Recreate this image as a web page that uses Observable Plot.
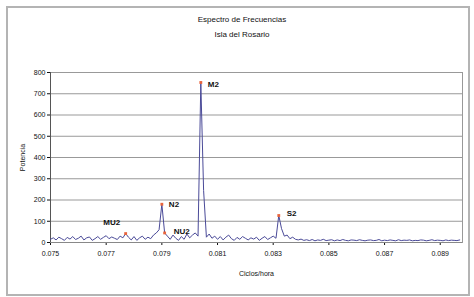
<!DOCTYPE html>
<html><head><meta charset="utf-8">
<script src="https://cdn.jsdelivr.net/npm/d3@7"></script>
<script src="https://cdn.jsdelivr.net/npm/@observablehq/plot@0.6"></script>
<style>
body{margin:0;background:#fff;font-family:"Liberation Sans",Arial,sans-serif;}
#wrap{position:relative;width:474px;height:297px;overflow:hidden;}
#frame{position:absolute;left:6px;top:6px;width:460px;height:286px;border:2px solid #b4b4b4;}
.t{position:absolute;left:0;width:474px;text-align:center;font-size:8px;color:#111;}
#chart{position:absolute;left:0;top:50px;}
</style></head>
<body>
<div id="wrap">
<div id="frame"></div>
<div class="t" style="top:15px;left:5px">Espectro de Frecuencias</div>
<div class="t" style="top:30px;left:5px">Isla del Rosario</div>
<div id="chart"></div>
</div>
<script>
// frequency start and step (cycles/hour)
const freqStart = 0.0750;
const freqStep = 0.0001;
// spectral power values (one per frequency)
const power = [
15,22,12,25,18,10,24,16,28,14,
20,30,12,22,26,10,18,28,15,24,
32,18,26,20,14,30,22,42,25,12,
28,10,22,30,15,25,18,35,45,60,
180,45,30,15,35,20,10,28,15,40,
22,35,45,30,753,245,25,40,20,30,
15,28,12,25,35,18,10,24,15,28,
20,12,22,16,25,10,20,28,14,22,
30,20,127,65,30,35,18,25,15,12,
16,10,13,9,14,8,12,10,15,9,
11,13,8,12,9,14,10,8,12,11,
9,13,10,8,11,12,9,10,14,8,
11,9,12,10,8,13,9,11,10,12,
8,10,9,12,11,8,10,13,9,11,
10,8,12,9,11,10,9,12
];
const freqs = power.map((_, i) => +(freqStart + i * freqStep).toFixed(4));
const data = power.map((p, i) => ({f: freqs[i], p}));

// tidal constituents marked in red
const constNames = ["MU2","N2","NU2","M2","S2"];
const constFreqs = [0.0777,0.0790,0.0791,0.0804,0.0832];
const constPower = [42,180,45,753,127];
const cons = constNames.map((n, i) => ({name: n, f: constFreqs[i], p: constPower[i]}));

const xTicks = [0.075,0.077,0.079,0.081,0.083,0.085,0.087,0.089];
const yTicks = [0,100,200,300,400,500,600,700,800];

const byName = n => cons.filter(d => d.name === n);
const lbl = {x:"f", y:"p", text:"name", fontSize:8, fill:"#111", fontWeight:"bold"};

const plot = Plot.plot({
  width: 474, height: 247,
  marginLeft: 50, marginRight: 12, marginTop: 22, marginBottom: 55,
  style: {fontFamily: '"Liberation Sans",Arial,sans-serif', fontSize: "7px", color: "#111", background: "transparent"},
  x: {domain: [0.075, 0.0898]},
  y: {domain: [0, 800]},
  marks: [
    Plot.gridY(yTicks.slice(1), {stroke: "#999", strokeOpacity: 1}),
    Plot.frame({stroke: "#999"}),
    Plot.axisY(yTicks, {tickSize: 3, tickPadding: 2, label: "Potencia", labelAnchor: "center", labelOffset: 30, labelArrow: "none", tickFormat: d => String(d)}),
    Plot.axisX(xTicks, {tickSize: 3, tickPadding: 6, label: "Ciclos/hora", labelAnchor: "center", labelOffset: 33, labelArrow: "none", tickFormat: d => d.toFixed(3)}),
    Plot.ruleY([0], {stroke: "#888"}),
    Plot.ruleX([0.075], {stroke: "#555"}),
    Plot.line(data, {x: "f", y: "p", stroke: "#4a4a98", strokeWidth: 1}),
    Plot.dot(cons, {x: "f", y: "p", symbol: "square", r: 1.6, fill: "#e8643c", stroke: "none"}),
    Plot.text(byName("MU2"), {...lbl, dx: -14, dy: -11}),
    Plot.text(byName("N2"), {...lbl, dx: 7, textAnchor: "start"}),
    Plot.text(byName("NU2"), {...lbl, dx: 9, dy: -2, textAnchor: "start"}),
    Plot.text(byName("M2"), {...lbl, dx: 7, dy: 2, textAnchor: "start"}),
    Plot.text(byName("S2"), {...lbl, dx: 8, dy: -2, textAnchor: "start"})
  ]
});
document.getElementById("chart").appendChild(plot);
</script>
</body></html>
